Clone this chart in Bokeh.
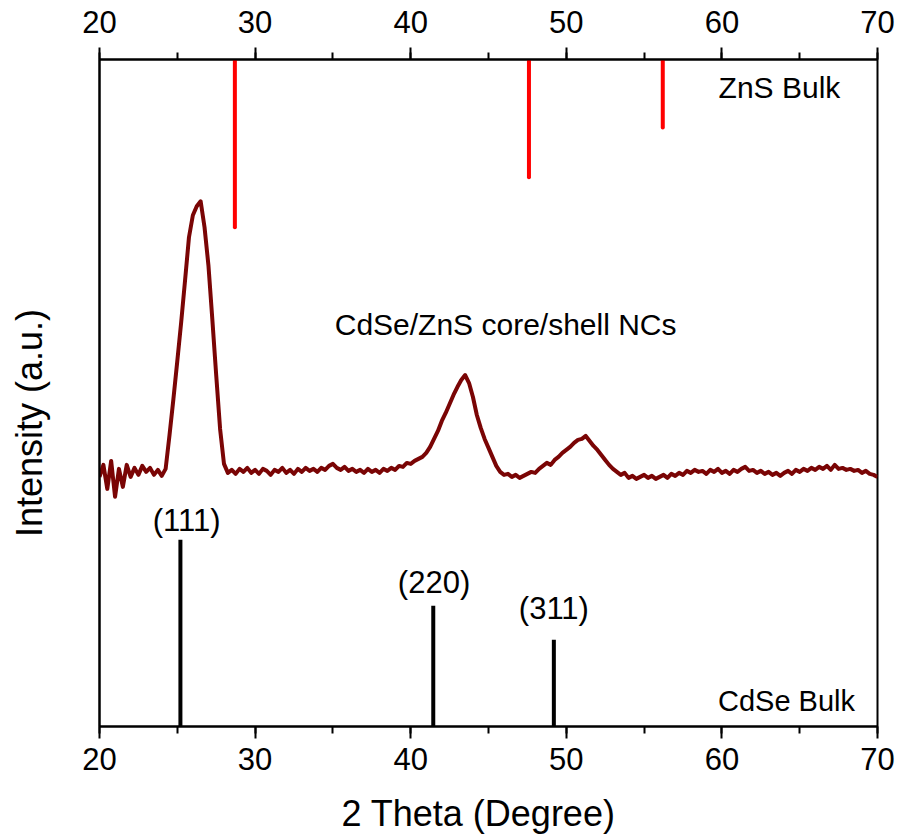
import numpy as np
from bokeh.plotting import figure
from bokeh.models import LinearAxis, SingleIntervalTicker, FixedTicker, Range1d, ColumnDataSource
from bokeh.embed import file_html
from bokeh.resources import INLINE
from bokeh.core.properties import value

# ---------------- data ----------------
# 2-theta grid, 0.25 degree steps from 20 to 70
two_theta = [round(20 + 0.25 * i, 2) for i in range(201)]
# measured intensity (arbitrary units), one row per degree (x.00, x.25, x.50, x.75)
intensity = [
    250, 262, 238, 266,   # 20
    230, 258, 240, 262,   # 21
    250, 259, 252, 261,   # 22
    255, 259, 252, 257,   # 23
    251, 258, 292, 328,   # 24
    366, 405, 447, 490,   # 25
    512, 521, 526, 500,   # 26
    462, 408, 352, 298,   # 27
    263, 254, 257, 253,   # 28
    258, 255, 259, 254,   # 29
    257, 253, 258, 256,   # 30
    252, 257, 255, 259,   # 31
    254, 257, 253, 258,   # 32
    255, 259, 256, 258,   # 33
    255, 259, 257, 261,   # 34
    263, 259, 257, 260,   # 35
    256, 258, 255, 257,   # 36
    254, 258, 255, 257,   # 37
    254, 258, 256, 259,   # 38
    257, 261, 260, 264,   # 39
    263, 266, 268, 270,   # 40
    274, 280, 288, 296,   # 41
    306, 314, 323, 332,   # 42
    340, 347, 352, 344,   # 43
    330, 312, 299, 288,   # 44
    279, 270, 261, 255,   # 45
    252, 253, 250, 252,   # 46
    249, 251, 253, 255,   # 47
    254, 258, 261, 264,   # 48
    262, 267, 270, 274,   # 49
    277, 280, 284, 287,   # 50
    288, 291, 286, 281,   # 51
    277, 272, 267, 262,   # 52
    258, 255, 252, 254,   # 53
    249, 251, 248, 250,   # 54
    252, 249, 251, 248,   # 55
    250, 252, 249, 253,   # 56
    251, 254, 252, 256,   # 57
    254, 257, 255, 256,   # 58
    253, 257, 255, 258,   # 59
    254, 256, 253, 257,   # 60
    255, 258, 260, 256,   # 61
    257, 254, 256, 253,   # 62
    255, 252, 254, 251,   # 63
    254, 256, 253, 257,   # 64
    255, 258, 256, 259,   # 65
    257, 260, 258, 261,   # 66
    257, 262, 258, 259,   # 67
    257, 258, 256, 257,   # 68
    254, 256, 253, 252,   # 69
    250,                  # 70
]

# reference stick patterns
zns_positions = [28.7, 47.6, 56.2]
zns_intensity = [168, 118, 68]        # drawn downward from the top
cdse_positions = [25.2, 41.45, 49.2]
cdse_intensity = [187, 121, 87]        # drawn upward from the bottom
cdse_labels = ["(111)", "(220)", "(311)"]
cdse_label_x = [25.6, 41.5, 49.2]
cdse_label_y = [206, 144, 118]

Y_TOP = 668

FONT = "Liberation Sans"
NBSP = "\u00a0"

p = figure(width=900, height=836,
           x_range=Range1d(20, 70), y_range=Range1d(0, Y_TOP),
           output_backend="svg", toolbar_location=None,
           min_border_left=99, min_border_right=23,
           min_border_top=59, min_border_bottom=109)

p.background_fill_color = "white"
p.border_fill_color = "white"
p.outline_line_color = "black"
p.outline_line_width = 2
p.xgrid.visible = False
p.ygrid.visible = False

# ZnS bulk sticks (red, from top)
zsrc = ColumnDataSource(dict(x=zns_positions,
                             y0=[Y_TOP] * len(zns_positions),
                             y1=[Y_TOP - v for v in zns_intensity]))
p.segment(x0="x", y0="y0", x1="x", y1="y1", source=zsrc,
          line_color="#ff0000", line_width=4, line_cap="round")

# CdSe bulk sticks (black, from bottom)
csrc = ColumnDataSource(dict(x=cdse_positions,
                             y0=[0] * len(cdse_positions),
                             y1=cdse_intensity))
p.segment(x0="x", y0="y0", x1="x", y1="y1", source=csrc,
          line_color="black", line_width=4)

# measured pattern
p.line(two_theta, intensity, line_color="#7a0505", line_width=4, line_join="round")

# annotations
p.text(x=cdse_label_x, y=cdse_label_y, text=cdse_labels,
       text_font=value(FONT), text_font_size="31px", text_color="black",
       text_align="center", text_baseline="middle")
p.text(x=[63.7], y=[640], text=["ZnS Bulk"],
       text_font=value(FONT), text_font_size="30px", text_color="black",
       text_align="center", text_baseline="middle")
p.text(x=[64.15], y=[26], text=["CdSe Bulk"],
       text_font=value(FONT), text_font_size="29px", text_color="black",
       text_align="center", text_baseline="middle")
p.text(x=[46.1], y=[403], text=["CdSe/ZnS core/shell NCs"],
       text_font=value(FONT), text_font_size="30px", text_color="black",
       text_align="center", text_baseline="middle")

# axes
def style_x(ax):
    ax.ticker = SingleIntervalTicker(interval=10, num_minor_ticks=2)
    ax.axis_line_width = 2
    ax.major_tick_line_width = 2
    ax.minor_tick_line_width = 2
    ax.major_tick_out = 12
    ax.major_tick_in = 0
    ax.minor_tick_out = 7
    ax.minor_tick_in = 0
    ax.major_label_text_font = FONT
    ax.major_label_text_font_size = "31px"
    ax.major_label_text_color = "black"

xb = p.xaxis[0]
style_x(xb)
xb.major_label_standoff = 9
xb.axis_label = "2 Theta (Degree)" + NBSP * 2
xb.axis_label_text_font = FONT
xb.axis_label_text_font_size = "36px"
xb.axis_label_text_font_style = "normal"
xb.axis_label_text_color = "black"
xb.axis_label_standoff = 20

xt = LinearAxis()
style_x(xt)
xt.major_label_standoff = 15
p.add_layout(xt, "above")

yl = p.yaxis[0]
yl.ticker = FixedTicker(ticks=[])
yl.axis_line_width = 2
yl.major_tick_line_color = None
yl.minor_tick_line_color = None
yl.axis_label = "Intensity (a.u.)" + NBSP * 6
yl.axis_label_text_font = FONT
yl.axis_label_text_font_size = "36px"
yl.axis_label_text_font_style = "normal"
yl.axis_label_text_color = "black"
yl.axis_label_standoff = 50

open("out.html", "w").write(file_html(p, INLINE))
